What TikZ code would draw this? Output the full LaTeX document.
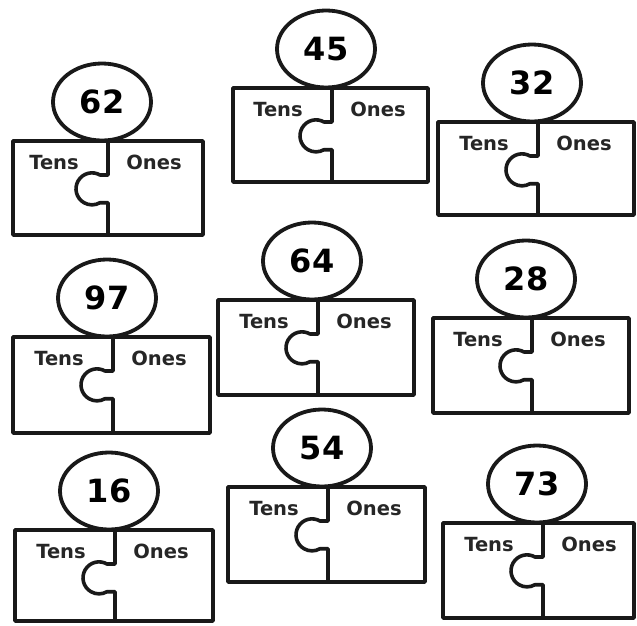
\documentclass[tikz,border=0pt]{standalone}
\usepackage{fontspec}
\setmainfont{DejaVu Sans}
\usetikzlibrary{shapes.geometric}
\begin{document}
\begin{tikzpicture}[x=1pt,y=-1pt,
  piece/.style={draw=black!90,line width=3.6pt,line join=round},
  numcirc/.style={ellipse,draw=black!90,line width=3.8pt,fill=white,minimum width=98pt,minimum height=77pt,inner sep=0pt,font=\fontsize{32}{33}\selectfont\bfseries},
  lbl/.style={inner sep=0pt,anchor=base,font=\fontsize{19.5}{20}\selectfont\bfseries,text=black!85}]
\fill[white] (0,0) rectangle (637,626);
\useasboundingbox (0,0) rectangle (637,626);
\foreach \n/\l/\t/\r/\b/\d/\num in {
  p1/13/141/203/235/108/62,
  p2/233/88/428/182/332/45,
  p3/438/122/634/215/538/32,
  p4/13/337/210/433/113/97,
  p5/218/300/414/395/318/64,
  p6/433/318/629/413/532/28,
  p7/15/530/213/621/115/16,
  p8/228/487/425/582/328/54,
  p9/443/523/634/618/543/73}{
  \draw[piece] (\l,\t) rectangle (\r,\b);
  \draw[piece] (\d,\t) -- ++(0,34) -- ++(-8,0) arc[start angle=-60,end angle=-300,radius=16] -- ++(8,0) -- (\d,\b);
  \node[numcirc] (\n) at (\d-6,\t-39) {\num};
  \node[lbl] (\n-t) at (\d-54,\t+28) {Tens};
  \node[lbl] (\n-o) at (\d+46,\t+28) {Ones};
}
\end{tikzpicture}
\end{document}
